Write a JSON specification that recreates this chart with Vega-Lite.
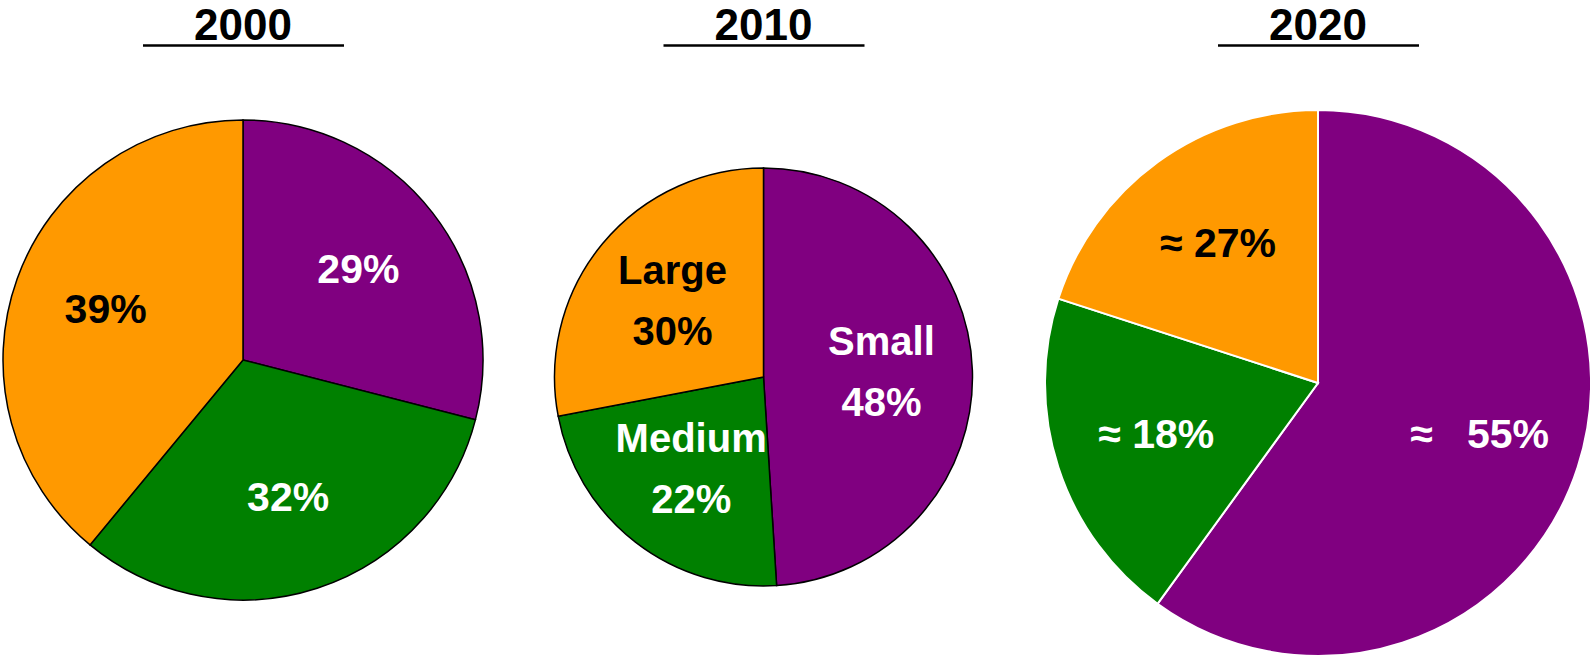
{
  "$schema": "https://vega.github.io/schema/vega-lite/v6.json",
  "padding": 0,
  "background": "white",
  "config": {"view": {"stroke": null}},
  "datasets": {
    "shares": [
      {"year": "2000", "size": "Small", "idx": 1, "share": 29, "label": "29%"},
      {"year": "2000", "size": "Medium", "idx": 2, "share": 32, "label": "32%"},
      {"year": "2000", "size": "Large", "idx": 3, "share": 39, "label": "39%"},
      {"year": "2010", "size": "Small", "idx": 1, "share": 49, "label": "Small\n48%"},
      {"year": "2010", "size": "Medium", "idx": 2, "share": 23, "label": "Medium\n22%"},
      {"year": "2010", "size": "Large", "idx": 3, "share": 28, "label": "Large\n30%"},
      {"year": "2020", "size": "Small", "idx": 1, "share": 60, "label": "≈\u00a0\u00a0\u00a055%"},
      {"year": "2020", "size": "Medium", "idx": 2, "share": 20, "label": "≈ 18%"},
      {"year": "2020", "size": "Large", "idx": 3, "share": 20, "label": "≈ 27%"}
    ]
  },
  "spacing": 0,
  "hconcat": [
    {
      "spacing": 17,
      "center": true,
      "bounds": "flush",
      "vconcat": [
        {
          "width": 201, "height": 45,
          "data": {"values": [{"year": "2000"}]},
          "mark": {"type": "text", "font": "Liberation Sans", "fontWeight": "bold", "fontSize": 44, "baseline": "alphabetic", "dy": 17.5, "color": "black"},
          "encoding": {
            "text": {"field": "year"},
            "x": {"field": "year", "type": "nominal", "axis": {"orient": "bottom", "domain": true, "domainColor": "black", "domainWidth": 2.5, "ticks": false, "labels": false, "title": null, "grid": false}}
          }
        },
        {
          "width": 486, "height": 596,
          "data": {"name": "shares"},
          "transform": [{"filter": "datum.year === '2000'"}],
          "encoding": {
            "theta": {"field": "share", "type": "quantitative", "stack": true},
            "order": {"field": "idx", "type": "quantitative"},
            "detail": {"field": "size", "type": "nominal"}
          },
          "layer": [
            {
              "mark": {"type": "arc", "outerRadius": 240, "stroke": "black", "strokeWidth": 1.5},
              "encoding": {"color": {"field": "size", "type": "nominal", "scale": {"domain": ["Small", "Medium", "Large"], "range": ["#800080", "#008000", "#FF9900"]}, "legend": null}}
            },
            {
              "mark": {"type": "text", "radius": 146, "font": "Liberation Sans", "fontWeight": "bold", "fontSize": 41, "baseline": "middle", "align": "center"},
              "encoding": {
                "text": {"field": "label"},
                "color": {"condition": {"test": "datum.size === 'Large'", "value": "black"}, "value": "white"}
              }
            }
          ]
        }
      ]
    },
    {
      "spacing": 51,
      "center": true,
      "bounds": "flush",
      "vconcat": [
        {
          "width": 201, "height": 45,
          "data": {"values": [{"year": "2010"}]},
          "mark": {"type": "text", "font": "Liberation Sans", "fontWeight": "bold", "fontSize": 44, "baseline": "alphabetic", "dy": 17.5, "color": "black"},
          "encoding": {
            "text": {"field": "year"},
            "x": {"field": "year", "type": "nominal", "axis": {"orient": "bottom", "domain": true, "domainColor": "black", "domainWidth": 2.5, "ticks": false, "labels": false, "title": null, "grid": false}}
          }
        },
        {
          "width": 555, "height": 562,
          "data": {"name": "shares"},
          "transform": [{"filter": "datum.year === '2010'"}],
          "encoding": {
            "theta": {"field": "share", "type": "quantitative", "stack": true},
            "order": {"field": "idx", "type": "quantitative"},
            "detail": {"field": "size", "type": "nominal"}
          },
          "layer": [
            {
              "mark": {"type": "arc", "outerRadius": 209, "stroke": "black", "strokeWidth": 1.5},
              "encoding": {"color": {"field": "size", "type": "nominal", "scale": {"domain": ["Small", "Medium", "Large"], "range": ["#800080", "#008000", "#FF9900"]}, "legend": null}}
            },
            {
              "mark": {"type": "text", "radius": 118, "font": "Liberation Sans", "fontWeight": "bold", "fontSize": 40, "lineHeight": 61, "lineBreak": "\n", "baseline": "middle", "align": "center", "dy": -30},
              "encoding": {
                "text": {"field": "label"},
                "color": {"condition": {"test": "datum.size === 'Large'", "value": "black"}, "value": "white"}
              }
            }
          ]
        }
      ]
    },
    {
      "spacing": 63,
      "center": true,
      "bounds": "flush",
      "vconcat": [
        {
          "width": 201, "height": 45,
          "data": {"values": [{"year": "2020"}]},
          "mark": {"type": "text", "font": "Liberation Sans", "fontWeight": "bold", "fontSize": 44, "baseline": "alphabetic", "dy": 17.5, "color": "black"},
          "encoding": {
            "text": {"field": "year"},
            "x": {"field": "year", "type": "nominal", "axis": {"orient": "bottom", "domain": true, "domainColor": "black", "domainWidth": 2.5, "ticks": false, "labels": false, "title": null, "grid": false}}
          }
        },
        {
          "width": 546, "height": 550,
          "data": {"name": "shares"},
          "transform": [{"filter": "datum.year === '2020'"}],
          "encoding": {
            "theta": {"field": "share", "type": "quantitative", "stack": true},
            "order": {"field": "idx", "type": "quantitative"},
            "detail": {"field": "size", "type": "nominal"}
          },
          "layer": [
            {
              "mark": {"type": "arc", "outerRadius": 273, "stroke": "white", "strokeWidth": 2},
              "encoding": {"color": {"field": "size", "type": "nominal", "scale": {"domain": ["Small", "Medium", "Large"], "range": ["#800080", "#008000", "#FF9900"]}, "legend": null}}
            },
            {
              "mark": {"type": "text", "radius": 170, "font": "Liberation Sans", "fontWeight": "bold", "fontSize": 41, "baseline": "middle", "align": "center"},
              "encoding": {
                "text": {"field": "label"},
                "color": {"condition": {"test": "datum.size === 'Large'", "value": "black"}, "value": "white"}
              }
            }
          ]
        }
      ]
    }
  ]
}
